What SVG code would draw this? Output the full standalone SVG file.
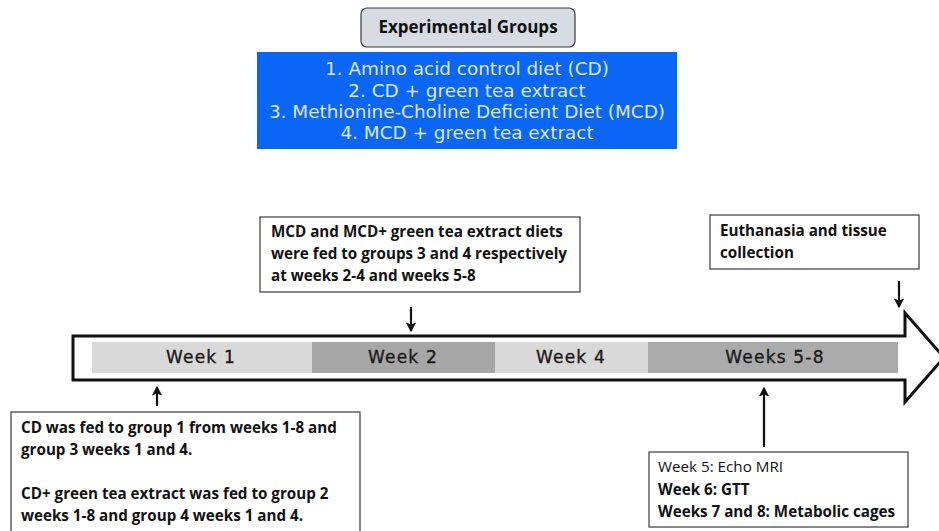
<svg xmlns="http://www.w3.org/2000/svg" width="939" height="531" viewBox="0 0 939 531">
<defs>
<style>
.box{fill:#ffffff;stroke:#3a3a3a;stroke-width:1.2}
.note{font-family:"Open Sans","Liberation Sans",sans-serif;font-weight:bold;font-size:15.2px;fill:#111}
.noteN{font-family:"Open Sans","Liberation Sans",sans-serif;font-weight:normal;font-size:15.2px;fill:#111}
.wk{font-family:"DejaVu Sans",Verdana,sans-serif;font-size:17px;fill:#1a1a1a;stroke:#1a1a1a;stroke-width:0.35;letter-spacing:1.2px;text-anchor:middle}
.grp{font-family:"DejaVu Sans","Liberation Sans",sans-serif;font-size:18.4px;fill:#dfe6f2;text-anchor:middle}
.conn{stroke:#111;stroke-width:2.2;fill:none;marker-end:url(#ah)}
</style>
<marker id="ah" viewBox="0 0 10 10" refX="9" refY="5" markerWidth="10" markerHeight="10" orient="auto" markerUnits="userSpaceOnUse">
<path d="M1,0.5 L9.5,5 L1,9.5 L3,5 Z" fill="#111" stroke="#111" stroke-width="0.8" stroke-linejoin="round"/>
</marker>
</defs>
<rect width="939" height="531" fill="#ffffff"/>

<g id="title">
<rect x="361" y="8" width="214" height="39" rx="6" fill="#d6dbe4" stroke="#3a3a3a" stroke-width="1.2"/>
<text x="468" y="33" text-anchor="middle" font-family="Open Sans, Liberation Sans, sans-serif" font-weight="bold" font-size="17px" fill="#111">Experimental Groups</text>
</g>

<g id="groups">
<rect x="257" y="52" width="420" height="97" fill="#0a66f5"/>
<text class="grp" x="467" y="75">1. Amino acid control diet (CD)</text>
<text class="grp" x="467" y="97">2. CD +  green tea extract</text>
<text class="grp" x="467" y="118">3. Methionine-Choline Deficient Diet (MCD)</text>
<text class="grp" x="467" y="139">4. MCD + green tea extract</text>
</g>

<g id="timeline">
<path d="M73,336 L905,336 L905,313 L944,357.5 L905,402 L905,380 L73,380 Z" fill="#ffffff" stroke="#111" stroke-width="3" stroke-linejoin="miter"/>
<rect x="92" y="342" width="220" height="31" fill="#d9d9d9"/>
<rect x="312" y="342" width="183" height="31" fill="#a6a6a6"/>
<rect x="495" y="342" width="153" height="31" fill="#d9d9d9"/>
<rect x="648" y="342" width="250" height="31" fill="#ababab"/>
<text class="wk" x="201" y="363">Week 1</text>
<text class="wk" x="403" y="363">Week 2</text>
<text class="wk" x="571" y="363">Week 4</text>
<text class="wk" x="775" y="363">Weeks 5-8</text>
</g>

<g id="mcd-note">
<rect class="box" x="260" y="217" width="320" height="75"/>
<text class="note" x="271" y="237">MCD and MCD+ green tea extract diets</text>
<text class="note" x="271" y="259">were fed to groups 3 and 4 respectively</text>
<text class="note" x="271" y="281">at weeks 2-4 and weeks 5-8</text>
</g>

<g id="euth-note">
<rect class="box" x="710" y="215" width="209" height="54"/>
<text class="note" x="720" y="236">Euthanasia and tissue</text>
<text class="note" x="720" y="258">collection</text>
</g>

<g id="cd-note">
<rect class="box" x="11" y="412" width="349" height="130"/>
<text class="note" x="21" y="433">CD was fed to group 1 from weeks 1-8 and</text>
<text class="note" x="21" y="455">group 3 weeks 1 and 4.</text>
<text class="note" x="21" y="499">CD+ green tea extract was fed to group 2</text>
<text class="note" x="21" y="521">weeks 1-8 and group 4 weeks 1 and 4.</text>
</g>

<g id="tests-note">
<rect class="box" x="649" y="452" width="259" height="75"/>
<text class="noteN" x="658" y="472">Week 5: Echo MRI</text>
<text class="note" x="658" y="495">Week 6: GTT</text>
<text class="note" x="658" y="517">Weeks 7 and 8: Metabolic cages</text>
</g>

<g id="connectors">
<line class="conn" x1="411" y1="307" x2="411" y2="331"/>
<line class="conn" x1="899" y1="281" x2="899" y2="307"/>
<line class="conn" x1="157" y1="406" x2="157" y2="387"/>
<line class="conn" x1="764" y1="447" x2="764" y2="388"/>
</g>
</svg>
